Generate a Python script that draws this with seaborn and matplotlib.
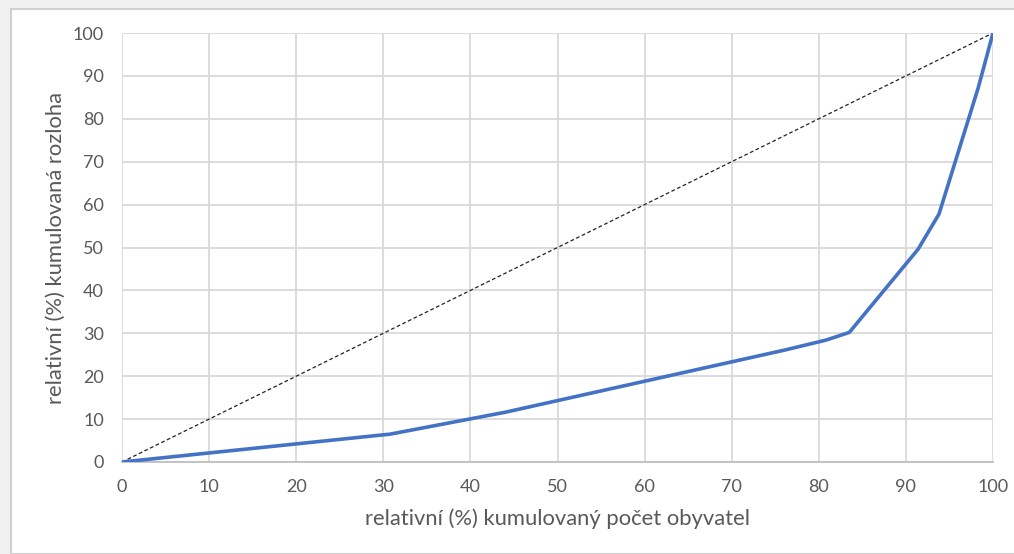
import matplotlib
matplotlib.use("Agg")
import matplotlib.pyplot as plt
import matplotlib.patches as patches
import seaborn as sns
import pandas as pd

# kumulovany podil obyvatel (%) a rozlohy (%)
obyvatele = [0, 30.8, 44.0, 76.1, 80.8, 83.5, 91.4, 93.8, 98.3, 100]
rozloha = [0, 6.5, 11.6, 26.1, 28.4, 30.2, 49.6, 57.8, 87.2, 100]
diag = [0, 100]

ticks = list(range(0, 101, 10))

sns.set_theme(style="whitegrid")
plt.rcParams["font.family"] = ["Lato", "DejaVu Sans"]

df = pd.DataFrame({"x": obyvatele, "y": rozloha})

fig = plt.figure(figsize=(10.14, 5.54), dpi=100)
fig.patch.set_facecolor("#f0f0f0")
fig.patches.append(patches.Rectangle((11 / 1014, 0), 1.0, 1 - 9 / 554, transform=fig.transFigure,
                                     facecolor="white", edgecolor="#d0d0d0", linewidth=1.5, zorder=-10))
ax = fig.add_axes([122 / 1014, 1 - 462 / 554, (993 - 122) / 1014, (462 - 33) / 554])
ax.set_facecolor("white")

ax.plot(diag, diag, color="#222222", linestyle=(0, (3, 2)), linewidth=0.9, zorder=2)
sns.lineplot(data=df, x="x", y="y", ax=ax, color="#4472C4", linewidth=2.6, sort=False, zorder=3)

ax.set_xlim(0, 100)
ax.set_ylim(0, 100)
ax.set_xticks(ticks)
ax.set_yticks(ticks)
ax.grid(True, color="#d9d9d9", linewidth=1.3)
for s in ["top", "right", "left"]:
    ax.spines[s].set_visible(False)
ax.spines["bottom"].set_color("#bfbfbf")
ax.spines["bottom"].set_linewidth(1.3)
ax.tick_params(axis="both", length=0, labelsize=13, labelcolor="#595959")
ax.tick_params(axis="x", pad=12)
ax.tick_params(axis="y", pad=13)

font1 = {"size": 15.8, "color": "#595959"}
ax.set_xlabel("relativní (%) kumulovaný počet obyvatel", fontdict=font1, labelpad=10)
ax.set_ylabel("relativní (%) kumulovaná rozloha", fontdict=font1, labelpad=5)

plt.savefig("out.png", dpi=100, facecolor=fig.get_facecolor())
